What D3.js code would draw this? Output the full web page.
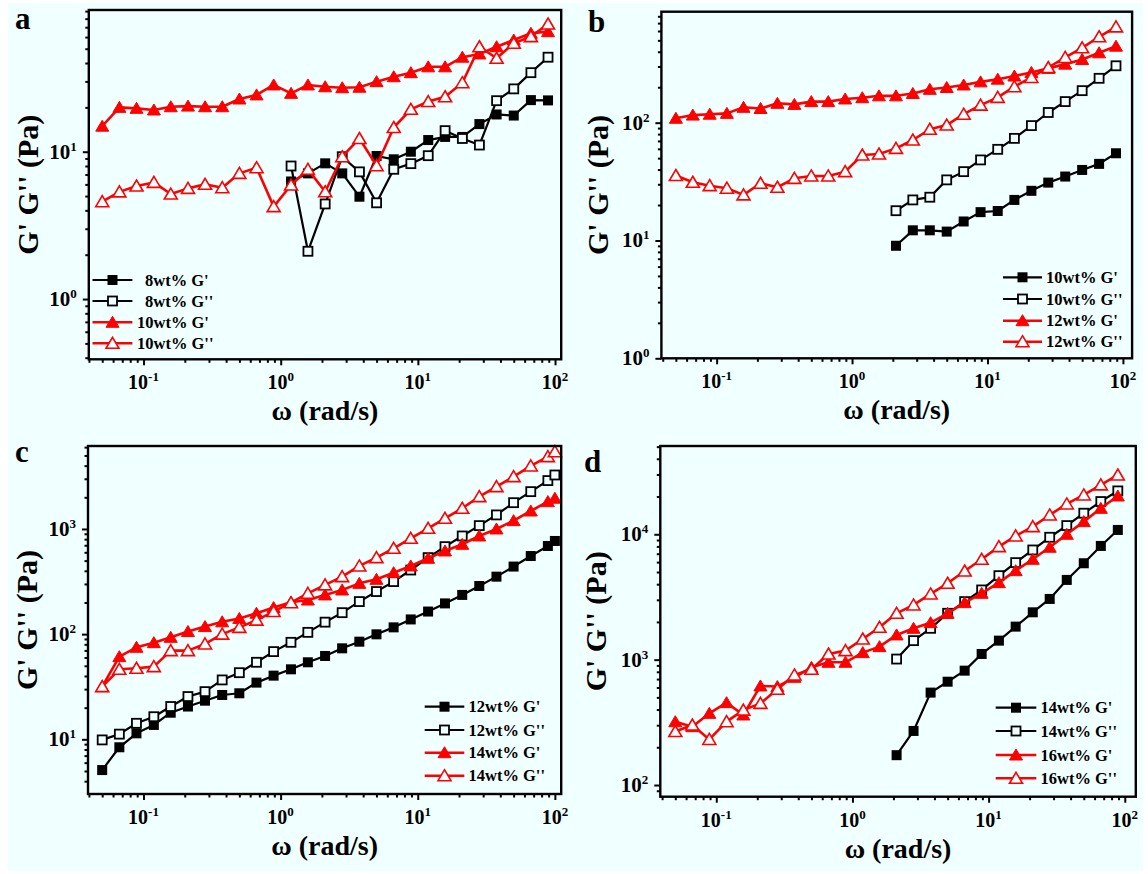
<!DOCTYPE html>
<html><head><meta charset="utf-8">
<script src="https://cdn.jsdelivr.net/npm/d3@7/dist/d3.min.js"></script>
<style>body{margin:0;background:#fff}svg{display:block}text{font-family:"Liberation Serif","Times New Roman",serif;font-weight:bold}</style>
</head><body>
<script>
// ---------- data ----------
const omega = [0.05,0.0667,0.0889,0.119,0.158,0.211,0.281,0.375,0.5,0.667,0.889,1.19,1.58,2.11,2.81,3.75,5,6.67,8.89,11.9,15.8,21.1,28.1,37.5,50,66.7,88.9];
const omegaC = [0.05,0.0667,0.0889,0.119,0.158,0.211,0.281,0.375,0.5,0.667,0.889,1.19,1.58,2.11,2.81,3.75,5,6.67,8.89,11.9,15.8,21.1,28.1,37.5,50,66.7,88.9,100];

// panel a (8wt% series start at omega index 11)
const a8G1  = [6.28,7.13,8.34,7.13,4.95,9.35,8.88,10.0,12.0,12.6,12.6,15.4,17.9,17.6,22.4,22.3];
const a8G2  = [8.0,2.11,4.42,9.25,7.3,4.5,7.6,8.3,9.4,13.9,12.3,11.1,22.2,26.7,34.4,43.8];
const a10G1 = [14.9,20.0,19.7,19.2,20.2,20.4,20.2,20.2,22.8,24.3,28.4,24.9,28.4,27.6,27.2,27.4,29.9,32.3,34.4,37.7,37.7,43.8,46.1,51.6,57.3,63.7,65.3];
const a10G2 = [4.58,5.34,5.85,6.19,5.16,5.64,6.01,5.70,7.13,7.79,4.24,5.94,7.59,5.35,9.25,12.3,8.04,14.6,19.4,21.9,23.6,29.4,51.6,43.1,54.5,60.4,73.6];

// panel b (10wt% series start at omega index 13)
const b10G1 = [9.02,12.2,12.2,11.9,14.5,17.4,17.8,22.1,26.4,31.0,34.9,39.7,44.7,55.0];
const b10G2 = [17.9,22.1,23.3,32.7,38.4,48.3,59.4,73.6,94.4,122,151,187,238,304];
const b12G1 = [109,116,118,120,135,132,146,143,151,151,159,163,169,169,177,192,199,209,222,234,249,267,289,314,344,392,446];
const b12G2 = [35.6,31.2,29.2,27.8,24.4,30.6,28.3,33.7,35.3,35.3,38.4,53.2,54.2,60.5,71.3,87.9,95.5,118,141,164,202,242,294,358,432,536,651];

// panel c (uses omegaC)
const c12G1 = [5.1,8.4,11.4,13.7,17.9,20.5,23.3,26.4,27.4,34.6,40.3,46.3,54.0,62.0,73.3,84.8,99.6,116,138,164,196,236,287,352,439,553,689,769];
const c12G2 = [9.87,11.2,14.2,16.4,20.5,25.5,28.4,36.7,43.0,54.0,68.2,83.6,104,130,160,204,254,316,407,534,679,858,1076,1360,1778,2264,2884,3260];
const c14G1 = [31.7,61.1,75.0,83.0,93.3,106,118,131,141,158,179,201,211,236,263,304,332,384,445,526,618,715,858,1000,1200,1482,1820,1960];
const c14G2 = [31.7,46.3,47.4,49.1,69.7,69.7,80.7,100,116,136,164,199,244,294,352,445,534,655,815,1015,1263,1573,2030,2528,3148,3975,4874,5430];

// panel d (14wt% series start at omega index 13)
const d14G1 = [173,270,546,667,817,1110,1418,1834,2386,3050,4325,5873,8073,10830];
const d14G2 = [1011,1418,1778,2343,2904,3598,4677,5940,7497,9467,11730,14720,18240,22180];
const d16G1 = [320,292,373,454,362,617,610,723,869,953,953,1138,1270,1575,1778,1973,2343,2851,3383,4113,5128,6317,7880,10000,12620,16110,20210];
const d16G2 = [267,301,231,320,396,448,580,755,838,1110,1180,1462,1811,2343,2731,3342,4066,5096,6318,7978,9700,11510,14260,17450,20590,24760,29720];

const legendA = ["8wt% G'","8wt% G''","10wt% G'","10wt% G''"];
const legendB = ["10wt% G'","10wt% G''","12wt% G'","12wt% G''"];
const legendC = ["12wt% G'","12wt% G''","14wt% G'","14wt% G''"];
const legendD = ["14wt% G'","14wt% G''","16wt% G'","16wt% G''"];
const panelLetters = ["a","b","c","d"];
const xTitle = "ω (rad/s)";
const yTitle = "G' G'' (Pa)";

// ---------- layout ----------
const BG = "#f0ffff";
const RED = "#ff0000";
function tail(xs, vals){ const off = xs.length - vals.length; return xs.map((x,i)=>({x, v: i>=off ? vals[i-off] : null})); }
function mk(xs, vals, kind){ return {pts: tail(xs, vals), kind}; }

const panels = [
  {letter:panelLetters[0], lx:15, ly:29, x0:88.8, x1:561.2, y0:10, y1:359.3, xd:[0.0399,110.9], yd:[0.39,91.6],
   ytx:38, legend:legendA, leg:{l0:92.5,l1:132.4,m:112.5,t:137,rows:[280,301,322.3,343.3]},
   series:[mk(omega,a8G1,"sqF"),mk(omega,a8G2,"sqO"),mk(omega,a10G1,"trF"),mk(omega,a10G2,"trO")]},
  {letter:panelLetters[1], lx:588, ly:32, x0:661.4, x1:1132.1, y0:11.7, y1:358.3, xd:[0.0391,116.9], yd:[1,875],
   ytx:608, legend:legendB, leg:{l0:1003,l1:1042,m:1022.5,t:1046,rows:[277.3,299,320.7,341.7]},
   series:[mk(omega,b10G1,"sqF"),mk(omega,b10G2,"sqO"),mk(omega,b12G1,"trF"),mk(omega,b12G2,"trO")]},
  {letter:panelLetters[2], lx:15, ly:462, x0:88, x1:561.2, y0:446, y1:794, xd:[0.0394,111.2], yd:[3.02,6150],
   ytx:37, legend:legendC, leg:{l0:424.7,l1:464.3,m:444.5,t:468.5,rows:[706.7,730,752.7,775.7]},
   series:[mk(omegaC,c12G1,"sqF"),mk(omegaC,c12G2,"sqO"),mk(omegaC,c14G1,"trF"),mk(omegaC,c14G2,"trO")]},
  {letter:panelLetters[3], lx:584, ly:471.7, x0:660.3, x1:1135.8, y0:446, y1:796.7, xd:[0.0388,120.5], yd:[80.7,50600],
   ytx:606, legend:legendD, leg:{l0:995.7,l1:1036.3,m:1016,t:1040.5,rows:[707.7,731,755,778.3]},
   series:[mk(omega,d14G1,"sqF"),mk(omega,d14G2,"sqO"),mk(omega,d16G1,"trF"),mk(omega,d16G2,"trO")]}
];

const svg = d3.select("body").append("svg").attr("width",1148).attr("height",874);
svg.append("rect").attr("width",1148).attr("height",874).attr("fill","#fff");
svg.append("rect").attr("x",8).attr("y",3).attr("width",1135).attr("height",868).attr("fill",BG);

const triPath = "M0,-6L6.5,5L-6.5,5Z";
function styleOf(kind){
  const black = kind.startsWith("sq");
  return {color: black ? "#000" : RED, lw: black ? 2.2 : 2.6};
}
function drawMarker(g, kind, cx, cy){
  const {color} = styleOf(kind);
  if (kind==="sqF") g.append("rect").attr("x",cx-5).attr("y",cy-5).attr("width",10).attr("height",10).attr("fill","#000");
  else if (kind==="sqO") g.append("rect").attr("x",cx-4.5).attr("y",cy-4.5).attr("width",9).attr("height",9).attr("fill",BG).attr("stroke","#000").attr("stroke-width",1.8);
  else if (kind==="trF") g.append("path").attr("d",triPath).attr("transform",`translate(${cx},${cy})`).attr("fill",color).attr("stroke",color).attr("stroke-width",1);
  else g.append("path").attr("d",triPath).attr("transform",`translate(${cx},${cy})`).attr("fill",BG).attr("stroke",color).attr("stroke-width",1.6);
}
function powLabel(t, e){
  t.append("tspan").text("10");
  t.append("tspan").attr("dy",-8).attr("font-size",13).text(e);
}
function minorTicks(d){
  const out=[]; const e0=Math.floor(Math.log10(d[0])), e1=Math.ceil(Math.log10(d[1]));
  for(let e=e0;e<=e1;e++) for(let k=1;k<10;k++){ const v=k*Math.pow(10,e); if(v>=d[0]*0.999 && v<=d[1]*1.001) out.push(v); }
  return out;
}
function majors(d){ return minorTicks(d).filter(v=>Math.abs(Math.log10(v)-Math.round(Math.log10(v)))<1e-9); }

panels.forEach(p=>{
  const x = d3.scaleLog().domain(p.xd).range([p.x0,p.x1]);
  const y = d3.scaleLog().domain(p.yd).range([p.y1,p.y0]);
  const g = svg.append("g");
  const xMin = minorTicks(p.xd).filter(v=>!majors(p.xd).includes(v));
  const yMin = minorTicks(p.yd).filter(v=>!majors(p.yd).includes(v));
  const ax = (sel)=>{ sel.select(".domain").remove(); sel.selectAll("line").attr("stroke","#000").attr("stroke-width",2); };
  g.append("g").attr("transform",`translate(0,${p.y1})`).call(d3.axisBottom(x).tickValues(xMin).tickSize(3.5).tickFormat("")).call(ax);
  g.append("g").attr("transform",`translate(0,${p.y1})`).call(d3.axisBottom(x).tickValues(majors(p.xd)).tickSize(6).tickFormat("")).call(ax);
  g.append("g").attr("transform",`translate(${p.x0},0)`).call(d3.axisLeft(y).tickValues(yMin).tickSize(3.5).tickFormat("")).call(ax);
  g.append("g").attr("transform",`translate(${p.x0},0)`).call(d3.axisLeft(y).tickValues(majors(p.yd)).tickSize(6).tickFormat("")).call(ax);
  majors(p.xd).forEach(v=>{
    const t=g.append("text").attr("x",x(v)).attr("y",p.y1+30).attr("text-anchor","middle").attr("font-size",20);
    powLabel(t, String(Math.round(Math.log10(v))));
  });
  majors(p.yd).forEach(v=>{
    const t=g.append("text").attr("x",p.x0-12).attr("y",y(v)+7).attr("text-anchor","end").attr("font-size",21);
    powLabel(t, String(Math.round(Math.log10(v))));
  });
  // series
  p.series.forEach(s=>{
    const {color,lw}=styleOf(s.kind);
    const line=d3.line().defined(d=>d.v!=null).x(d=>x(d.x)).y(d=>y(d.v));
    g.append("path").attr("d",line(s.pts)).attr("fill","none").attr("stroke",color).attr("stroke-width",lw).attr("stroke-linejoin","round");
    s.pts.filter(d=>d.v!=null).forEach(d=>drawMarker(g,s.kind,x(d.x),y(d.v)));
  });
  // frame
  g.append("rect").attr("x",p.x0).attr("y",p.y0).attr("width",p.x1-p.x0).attr("height",p.y1-p.y0).attr("fill","none").attr("stroke","#000").attr("stroke-width",2.4);
  // legend
  p.legend.forEach((lab,i)=>{
    const s=p.series[i]; const {color,lw}=styleOf(s.kind); const ry=p.leg.rows[i];
    g.append("line").attr("x1",p.leg.l0).attr("x2",p.leg.l1).attr("y1",ry).attr("y2",ry).attr("stroke",color).attr("stroke-width",lw);
    drawMarker(g,s.kind,p.leg.m,ry);
    const single = /^\d[a-z]/.test(lab);
    g.append("text").attr("x",p.leg.t+(single?8:0)).attr("y",ry+5.5).attr("font-size",16.5).text(lab);
  });
  // titles
  g.append("text").attr("x",(p.x0+p.x1)/2).attr("y",p.y1+61).attr("text-anchor","middle").attr("font-size",28).text(xTitle);
  g.append("text").attr("transform",`translate(${p.ytx},${(p.y0+p.y1)/2}) rotate(-90)`).attr("text-anchor","middle").attr("font-size",30).text(yTitle);
  g.append("text").attr("x",p.lx).attr("y",p.ly).attr("font-size",31).text(p.letter);
});
</script>
</body></html>
